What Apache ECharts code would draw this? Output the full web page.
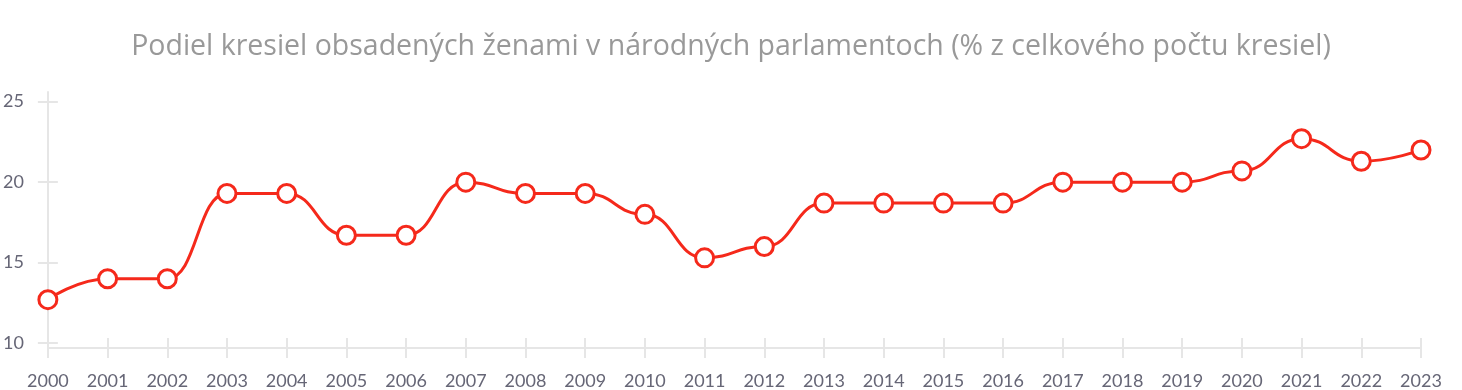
<!DOCTYPE html>
<html><head><meta charset="utf-8">
<script src="https://cdn.jsdelivr.net/npm/echarts@6/dist/echarts.min.js"></script>
<style>html,body{margin:0;padding:0;background:#fff}#c{width:1462px;height:390px}</style>
</head><body><div id="c"></div>
<script>
const titleText = 'Podiel kresiel obsadených ženami v národných parlamentoch (% z celkového počtu kresiel)';
const years = ['2000','2001','2002','2003','2004','2005','2006','2007','2008','2009','2010','2011','2012','2013','2014','2015','2016','2017','2018','2019','2020','2021','2022','2023'];
const values = [12.7,14.0,14.0,19.3,19.3,16.7,16.7,20.0,19.3,19.3,18.0,15.3,16.0,18.7,18.7,18.7,18.7,20.0,20.0,20.0,20.7,22.7,21.3,22.0];
const yTicks = [10,15,20,25];

const font = 'Lato';
const axisGrey = '#e6e6e6';
const labelColor = '#666676';
const chart = echarts.init(document.getElementById('c'));
chart.setOption({
  animation: false,
  title: {text: titleText, left: 'center', top: 27, textStyle: {fontFamily: 'Open Sans', fontSize: 28.5, fontWeight: 'normal', color: '#999999'}},
  grid: {left: 47, right: 41, top: 92, bottom: 42},
  xAxis: [{
    type: 'category', data: years, boundaryGap: false,
    axisLine: {lineStyle: {color: axisGrey, width: 2}},
    axisTick: {show: true, length: 10, lineStyle: {color: axisGrey, width: 2}},
    axisLabel: {color: labelColor, fontFamily: font, fontSize: 18, margin: 24, interval: 0}
  }, {
    type: 'category', data: years, boundaryGap: false, position: 'bottom',
    axisLine: {show: false},
    axisTick: {show: true, inside: true, length: 10, lineStyle: {color: axisGrey, width: 2}},
    axisLabel: {show: false}
  }],
  yAxis: [{
    type: 'value', min: 9.7, max: 25.6,
    axisLine: {show: true, lineStyle: {color: axisGrey, width: 2}},
    axisTick: {show: true, length: 10, customValues: yTicks, lineStyle: {color: axisGrey, width: 2}},
    axisLabel: {color: labelColor, fontFamily: font, fontSize: 18, margin: 24, customValues: yTicks},
    splitLine: {show: false}
  }, {
    type: 'value', min: 9.7, max: 25.6, position: 'left',
    axisLine: {show: false},
    axisTick: {show: true, inside: true, length: 10, customValues: yTicks, lineStyle: {color: axisGrey, width: 2}},
    axisLabel: {show: false, customValues: yTicks},
    splitLine: {show: false}
  }],
  series: [{
    type: 'line', data: values, smooth: 0.5, smoothMonotone: 'x',
    lineStyle: {color: '#f5291b', width: 3},
    symbol: 'circle', symbolSize: 18,
    itemStyle: {color: '#ffffff', borderColor: '#f5291b', borderWidth: 3},
    z: 5
  }]
});
</script></body></html>
